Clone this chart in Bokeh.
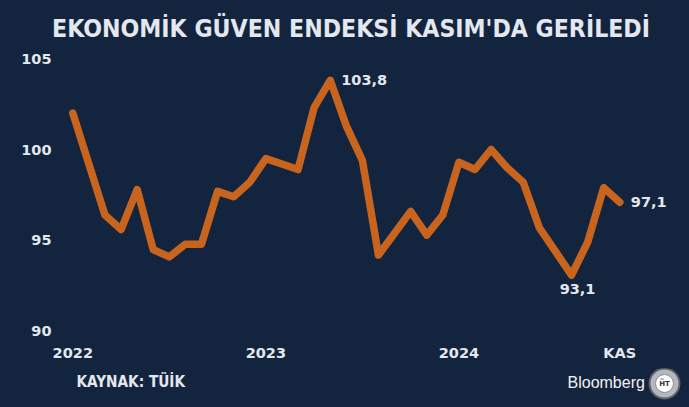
from bokeh.plotting import figure
from bokeh.models import Range1d, FixedTicker, Label
from bokeh.layouts import column
from bokeh.core.properties import value
from bokeh.embed import file_html
from bokeh.resources import INLINE

# Monthly values, Jan 2022 .. Nov 2024
values_2022 = [102.0, 99.2, 96.4, 95.6, 97.8, 94.5, 94.1, 94.8, 94.8, 97.7, 97.4, 98.2]
values_2023 = [99.5, 99.2, 98.9, 102.3, 103.8, 101.3, 99.4, 94.2, 95.4, 96.6, 95.3, 96.4]
values_2024 = [99.3, 98.9, 100.0, 99.0, 98.2, 95.7, 94.4, 93.1, 94.9, 97.9, 97.1]
values = values_2022 + values_2023 + values_2024
months = list(range(len(values)))

x_tick_pos = [0, 12, 24, 34]
x_tick_labels = ["2022", "2023", "2024", "KAS"]
y_ticks = [90, 95, 100, 105]

title_text = "EKONOMİK GÜVEN ENDEKSİ KASIM'DA GERİLEDİ"
source_text = "KAYNAK: TÜİK"
brand_text = "Bloomberg"

BG = "#13253e"
LINE = "#c8641e"
TXT = "#e4e8ee"
W = 689
LEFT = 52


def strip(h):
    f = figure(width=W, height=h, output_backend="svg", toolbar_location=None,
               x_range=Range1d(LEFT, W), y_range=Range1d(0, h),
               x_axis_type=None, y_axis_type=None,
               min_border_left=LEFT, min_border_right=0,
               min_border_top=0, min_border_bottom=0)
    f.background_fill_color = None
    f.border_fill_color = None
    f.outline_line_color = None
    f.grid.visible = False
    return f


# ---- title strip
t = strip(50)
t.text(x=[350.5], y=[22], text=[title_text], text_align="center", text_baseline="middle",
       text_color=TXT, text_font=value("DejaVu Sans Condensed"), text_font_style="bold",
       text_font_size="24.6px")

# ---- main chart
p = figure(width=W, height=318, output_backend="svg", toolbar_location=None,
           x_range=Range1d(-1.262, 38.333), y_range=Range1d(89.505, 105.44),
           min_border_left=LEFT, min_border_right=0, min_border_top=0, min_border_bottom=28)
p.background_fill_color = None
p.border_fill_color = None
p.outline_line_color = None
p.grid.visible = False

p.line(months, values, line_color=LINE, line_width=7.5, line_cap="round", line_join="round")

for ax in (p.xaxis[0], p.yaxis[0]):
    ax.axis_line_color = None
    ax.major_tick_line_color = None
    ax.minor_tick_line_color = None
    ax.major_tick_out = 0
    ax.major_tick_in = 0
    ax.major_label_text_color = TXT
    ax.major_label_text_font = "DejaVu Sans"
    ax.major_label_text_font_style = "bold"
    ax.major_label_text_font_size = "14.5px"

p.yaxis.ticker = FixedTicker(ticks=y_ticks)
p.yaxis.major_label_standoff = 1
p.xaxis.ticker = FixedTicker(ticks=x_tick_pos)
p.xaxis.major_label_overrides = {k: v for k, v in zip(x_tick_pos, x_tick_labels)}
p.xaxis.major_label_standoff = 4

imax = values.index(max(values))
imin = values.index(min(values))
ilast = len(values) - 1


def fmt(v):
    return f"{v:.1f}".replace(".", ",")


common = dict(text_color=TXT, text_font="DejaVu Sans", text_font_style="bold", text_font_size="14.5px")
p.add_layout(Label(x=imax, y=values[imax], text=fmt(values[imax]), x_offset=11, y_offset=0,
                   text_baseline="middle", text_align="left", **common))
p.add_layout(Label(x=imin, y=values[imin], text=fmt(values[imin]), x_offset=6, y_offset=-14,
                   text_baseline="middle", text_align="center", **common))
p.add_layout(Label(x=ilast, y=values[ilast], text=fmt(values[ilast]), x_offset=11, y_offset=0,
                   text_baseline="middle", text_align="left", **common))

# ---- footer strip
f = strip(39)
f.text(x=[76], y=[26], text=[source_text], text_align="left", text_baseline="middle",
       text_color=TXT, text_font=value("DejaVu Sans Condensed"), text_font_style="bold",
       text_font_size="15.2px")
f.text(x=[567], y=[25], text=[brand_text], text_align="left", text_baseline="middle",
       text_color="#f2f2f2", text_font=value("Liberation Sans"), text_font_size="16px")
f.scatter(x=[664], y=[24], size=30, marker="circle", fill_color="#b5b8bc",
          line_color="#5e6166", line_width=2)
f.scatter(x=[664], y=[24], size=18, marker="circle", fill_color="#ffffff",
          line_color="#8a8d92", line_width=1)
f.text(x=[664], y=[24], text=["H̅T"], text_align="center", text_baseline="middle",
       text_color="#333333", text_font=value("DejaVu Sans"), text_font_style="bold",
       text_font_size="7px")

layout = column(t, p, f, spacing=0)
html = file_html(layout, INLINE)
html = html.replace("<head>", "<head><style>html,body{background:%s;}</style>" % BG, 1)
open("out.html", "w").write(html)
